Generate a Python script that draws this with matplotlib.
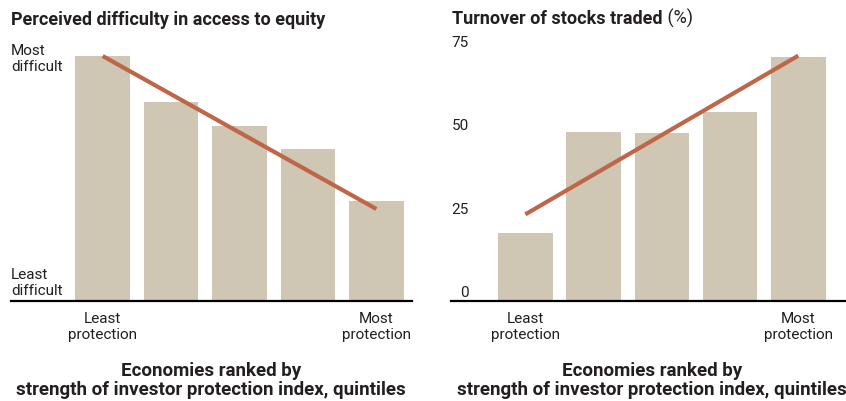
import numpy as np
import matplotlib
matplotlib.use("Agg")
import matplotlib.pyplot as plt

plt.rcParams['font.family'] = ['Roboto', 'DejaVu Sans']

# data
quintiles = ["Least\nprotection", "", "", "", "Most\nprotection"]
difficulty = [73.6, 59.7, 52.5, 45.6, 30.0]      # arbitrary index, 0 = least difficult
difficulty_trend = [73.5, 27.6]
turnover = [20.5, 50.6, 50.3, 56.6, 73.1]        # percent
turnover_trend = [26.0, 73.6]
turnover_ticks = [0, 25, 50, 75]

bar_color = "#CFC6B4"
line_color = "#C06648"
ink = "#231f20"

W, H = 846, 402
fig = plt.figure(figsize=(W / 100, H / 100), dpi=100)


def px(x, y):
    return x / W, 1 - y / H


def setup(ax, xlim):
    ax.set_xlim(*xlim)
    ax.set_ylim(0, 75)
    for s in ["top", "right", "left"]:
        ax.spines[s].set_visible(False)
    ax.spines["bottom"].set_linewidth(1.6)
    ax.spines["bottom"].set_zorder(5)
    ax.set_yticks([])
    ax.set_xticks(range(len(quintiles)))
    ax.set_xticklabels(quintiles, fontsize=11, color=ink, linespacing=1.2)
    ax.tick_params(axis="x", length=0, pad=7)
    ax.patch.set_alpha(0)


# left panel
ax1 = fig.add_axes([11 / W, 100 / H, 401 / W, 250 / H])
x = np.arange(len(difficulty))
ax1.bar(x, difficulty, width=0.8, color=bar_color, zorder=2)
ax1.plot([x[0], x[-1]], difficulty_trend, color=line_color, lw=3, solid_capstyle="butt", zorder=3)
setup(ax1, (-1.34, 4.52))

# right panel
ax2 = fig.add_axes([451 / W, 100 / H, 395 / W, 250 / H])
x = np.arange(len(turnover))
ax2.bar(x, turnover, width=0.8, color=bar_color, zorder=2)
ax2.plot([x[0], x[-1]], turnover_trend, color=line_color, lw=3, solid_capstyle="butt", zorder=3)
setup(ax2, (-1.09, 4.7))
for t in turnover_ticks:
    ax2.annotate(str(t), xy=(18 / 395, t), xycoords=ax2.get_yaxis_transform(),
                 xytext=(0, 3.5), textcoords="offset points",
                 ha="right", va="baseline", fontsize=11, color=ink)

# titles
fig.text(*px(11, 25), "Perceived difficulty in access to equity", fontsize=13,
         fontweight="bold", color=ink, va="baseline", ha="left")
t = fig.text(*px(452, 24), "Turnover of stocks traded", fontsize=13,
             fontweight="bold", color=ink, va="baseline", ha="left")
fig.canvas.draw()
bb = t.get_window_extent()
fig.text(bb.x1 / W, 1 - 24 / H, " (%)", fontsize=13, color=ink,
         va="baseline", ha="left")

# y-axis end labels on the left panel
fig.text(*px(11, 71), "Most\ndifficult", fontsize=11, color=ink,
         va="baseline", ha="left", linespacing=1.15)
fig.text(*px(11, 295), "Least\ndifficult", fontsize=11, color=ink,
         va="baseline", ha="left", linespacing=1.15)

# x-axis titles
xlab = "Economies ranked by\nstrength of investor protection index, quintiles"
fig.text(*px(211, 395), xlab, fontsize=13.5, fontweight="bold", color=ink,
         va="baseline", ha="center", linespacing=1.1)
fig.text(*px(652, 395), xlab, fontsize=13.5, fontweight="bold", color=ink,
         va="baseline", ha="center", linespacing=1.1)

fig.savefig("out.png", dpi=100)
